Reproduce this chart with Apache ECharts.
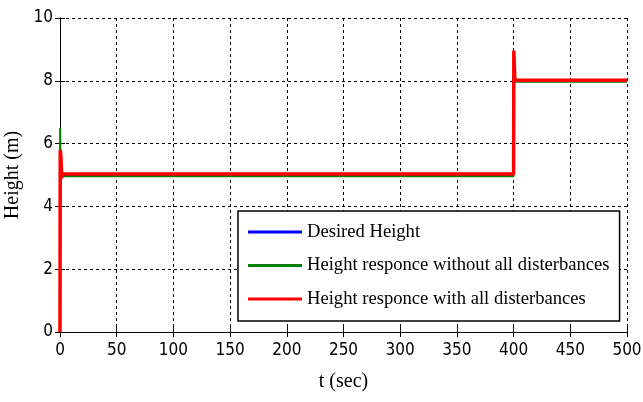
<!DOCTYPE html>
<html>
<head>
<meta charset="utf-8">
<script src="https://cdn.jsdelivr.net/npm/echarts@6/dist/echarts.min.js"></script>
<style>html,body{margin:0;padding:0;background:#fff}#c{width:643px;height:402px}</style>
</head>
<body>
<div id="c"></div>
<script>
const xTicks = [0, 50, 100, 150, 200, 250, 300, 350, 400, 450, 500];
const yTicks = [0, 2, 4, 6, 8, 10];
const seriesNames = ['Desired Height', 'Height responce without all disterbances', 'Height responce with all disterbances'];
const desiredT = [0, 400, 400, 400.4, 500];
const desiredH = [5, 5, 7.3, 8, 8];
const noDistT = [0, 0.1, 0.6, 1.2, 400, 400.3, 400.8, 500];
const noDistH = [0, 6.5, 4.8, 4.96, 4.96, 7.9, 7.97, 7.97];
const withDistT = [0, 0.2, 0.8, 1.5, 2.5, 400, 400.2, 401, 402, 500];
const withDistH = [0, 5.8, 5.6, 4.9, 5.03, 5.03, 8.96, 8.1, 8.02, 8.02];

const pairs = (t, h) => t.map((v, i) => [v, h[i]]);
const tickFont = "'DejaVu Sans'";
const serif = "'Liberation Serif', 'DejaVu Serif', serif";
const dashed = { show: true, lineStyle: { color: '#000', width: 1, type: [3, 3] } };
const tickLabel = { fontFamily: tickFont, fontStyle: 'normal', fontWeight: 'condensed', fontSize: 17, color: '#000' };

const chart = echarts.init(document.getElementById('c'));
chart.setOption({
  animation: false,
  backgroundColor: '#fff',
  grid: { left: 60, right: 16, top: 18, bottom: 70, outerBoundsMode: 'none', containLabel: false },
  legend: {
    orient: 'vertical',
    left: 238, top: 211,
    padding: [11, 10, 12, 10],
    backgroundColor: '#fff',
    borderColor: '#000', borderWidth: 1.5,
    itemWidth: 54, itemHeight: 3, itemGap: 13.5,
    icon: 'rect',
    data: seriesNames,
    textStyle: { fontFamily: serif, fontSize: 18.6, color: '#000', lineHeight: 20 }
  },
  xAxis: [{
    type: 'value', min: 0, max: 500, interval: 50,
    name: 't (sec)', nameLocation: 'middle', nameGap: 40,
    nameTextStyle: { fontFamily: serif, fontSize: 20, color: '#000' },
    axisLine: { show: true, lineStyle: { color: '#000', width: 1 } },
    axisTick: { show: true, inside: true, length: 5, lineStyle: { color: '#000' } },
    axisLabel: Object.assign({ margin: 10, formatter: v => xTicks.includes(v) ? String(v) : '' }, tickLabel),
    splitLine: dashed
  }, {
    type: 'value', min: 0, max: 500, interval: 50, position: 'top',
    axisLine: { show: true, lineStyle: { color: '#000', width: 1 } },
    axisTick: { show: true, inside: true, length: 5, lineStyle: { color: '#000' } },
    axisLabel: { show: false }, splitLine: { show: false }
  }],
  yAxis: [{
    type: 'value', min: 0, max: 10, interval: 2,
    name: 'Height (m)', nameLocation: 'middle', nameGap: 32,
    nameTextStyle: { fontFamily: serif, fontSize: 20, color: '#000' },
    axisLine: { show: true, lineStyle: { color: '#000', width: 1 } },
    axisTick: { show: true, inside: true, length: 5, lineStyle: { color: '#000' } },
    axisLabel: Object.assign({ margin: 7, formatter: v => yTicks.includes(v) ? String(v) : '' }, tickLabel),
    splitLine: dashed
  }, {
    type: 'value', min: 0, max: 10, interval: 2, position: 'right',
    axisLine: { show: true, lineStyle: { color: '#000', width: 1 } },
    axisTick: { show: true, inside: true, length: 5, lineStyle: { color: '#000' } },
    axisLabel: { show: false }, splitLine: { show: false }
  }],
  series: [
    { name: seriesNames[0], type: 'line', showSymbol: false, symbol: 'none',
      data: pairs(desiredT, desiredH), color: '#0000ff', lineStyle: { width: 2, color: '#0000ff' } },
    { name: seriesNames[1], type: 'line', showSymbol: false, symbol: 'none',
      data: pairs(noDistT, noDistH), color: '#008000', lineStyle: { width: 2, color: '#008000' } },
    { name: seriesNames[2], type: 'line', showSymbol: false, symbol: 'none',
      data: pairs(withDistT, withDistH), color: '#ff0000', lineStyle: { width: 3.5, color: '#ff0000' } }
  ]
});
</script>
</body>
</html>
